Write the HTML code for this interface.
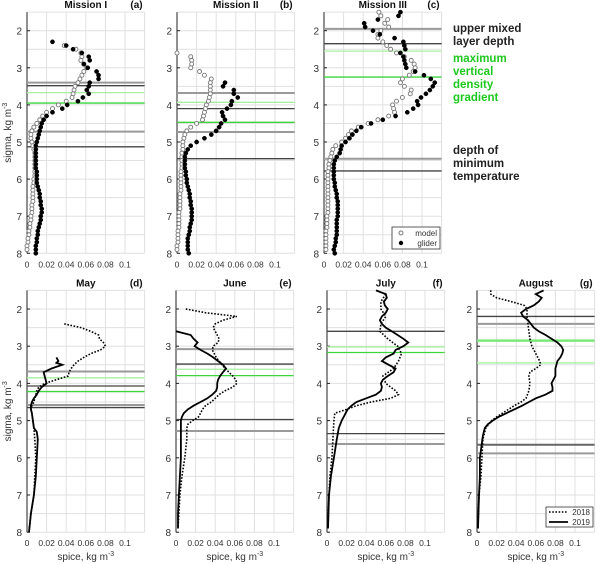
<!DOCTYPE html>
<html><head><meta charset="utf-8"><style>
body{margin:0;background:#fff}
svg{display:block;font-family:"Liberation Sans",Arial,sans-serif}
</style></head><body>
<svg id="chart" width="600" height="564" viewBox="0 0 600 564" xmlns="http://www.w3.org/2000/svg"></svg>
<script>
// ---- data ----
const xTicks=[0,0.02,0.04,0.06,0.08,0.1];
const xTickLabels=["0","0.02","0.04","0.06","0.08","0.1"];
const yTicks=[2,3,4,5,6,7,8];
const aGliderS=[2.3,2.4,2.5,2.6,2.7,2.8,2.9,3.0,3.1,3.2,3.3,3.4,3.5,3.6,3.7,3.8,3.9,4.0,4.1,4.2,4.3,4.4,4.5,4.6,4.7,4.8,4.9,5.0,5.1,5.2,5.3,5.4,5.5,5.6,5.7,5.8,5.9,6.0,6.1,6.2,6.3,6.4,6.5,6.6,6.7,6.8,6.9,7.0,7.1,7.2,7.3,7.4,7.5,7.6,7.7,7.8,7.9,8.0];
const aGliderX=[0.026,0.040,0.047,0.056,0.063,0.064,0.058,0.062,0.071,0.073,0.073,0.064,0.063,0.061,0.063,0.057,0.052,0.041,0.036,0.026,0.020,0.017,0.015,0.014,0.013,0.012,0.011,0.010,0.009,0.009,0.009,0.009,0.009,0.009,0.009,0.010,0.010,0.010,0.010,0.011,0.012,0.013,0.013,0.014,0.014,0.015,0.015,0.014,0.014,0.013,0.012,0.011,0.011,0.010,0.010,0.009,0.009,0.009];
const aModelS=[2.4,2.5,2.6,2.7,2.8,2.9,3.0,3.1,3.2,3.3,3.4,3.5,3.6,3.7,3.8,3.9,4.0,4.1,4.2,4.3,4.4,4.5,4.6,4.7,4.8,4.9,5.0,5.1,5.2,5.3,5.4,5.5,5.6,5.7,5.8,5.9,6.0,6.1,6.2,6.3,6.4,6.5,6.6,6.7,6.8,6.9,7.0,7.1,7.2,7.3,7.4,7.5,7.6,7.7,7.8,7.9];
const aModelX=[0.038,0.050,0.055,0.056,0.055,0.058,0.061,0.058,0.056,0.054,0.052,0.049,0.048,0.047,0.046,0.040,0.032,0.026,0.020,0.016,0.013,0.010,0.007,0.005,0.004,0.004,0.005,0.006,0.007,0.008,0.008,0.008,0.008,0.008,0.008,0.008,0.007,0.007,0.006,0.006,0.006,0.006,0.006,0.005,0.005,0.005,0.004,0.004,0.003,0.003,0.002,0.002,0.001,0.001,0.000,0.000];
const bGliderS=[3.4,3.5,3.6,3.7,3.8,3.9,4.0,4.1,4.2,4.3,4.4,4.5,4.6,4.7,4.8,4.9,5.0,5.1,5.2,5.3,5.4,5.5,5.6,5.7,5.8,5.9,6.0,6.1,6.2,6.3,6.4,6.5,6.6,6.7,6.8,6.9,7.0,7.1,7.2,7.3,7.4,7.5,7.6,7.7,7.8,7.9,8.0];
const bGliderX=[0.049,0.047,0.058,0.058,0.062,0.056,0.055,0.051,0.046,0.047,0.049,0.045,0.043,0.040,0.035,0.028,0.020,0.014,0.011,0.009,0.008,0.008,0.008,0.008,0.009,0.009,0.010,0.010,0.011,0.012,0.013,0.013,0.014,0.014,0.015,0.015,0.015,0.015,0.014,0.013,0.013,0.012,0.011,0.011,0.011,0.011,0.012];
const bModelS=[2.6,2.7,2.8,2.9,3.0,3.1,3.2,3.3,3.4,3.5,3.6,3.7,3.8,3.9,4.0,4.1,4.2,4.3,4.4,4.5,4.6,4.7,4.8,4.9,5.0,5.1,5.2,5.3,5.4,5.5,5.6,5.7,5.8,5.9,6.0,6.1,6.2,6.3,6.4,6.5,6.6,6.7,6.8,6.9,7.0,7.1,7.2,7.3,7.4,7.5,7.6,7.7,7.8,7.9];
const bModelX=[0.000,0.014,0.015,0.015,0.014,0.023,0.028,0.035,0.034,0.034,0.034,0.034,0.033,0.032,0.030,0.029,0.028,0.027,0.026,0.020,0.014,0.010,0.008,0.007,0.006,0.006,0.006,0.005,0.005,0.005,0.005,0.005,0.004,0.004,0.004,0.004,0.004,0.004,0.003,0.003,0.003,0.003,0.003,0.002,0.002,0.002,0.002,0.002,0.001,0.001,0.001,0.001,0.000,0.000];
const cGliderS=[1.5,1.6,1.7,1.8,1.9,2.0,2.1,2.2,2.3,2.4,2.5,2.6,2.7,2.8,2.9,3.0,3.1,3.2,3.3,3.4,3.5,3.6,3.7,3.8,3.9,4.0,4.1,4.2,4.3,4.4,4.5,4.6,4.7,4.8,4.9,5.0,5.1,5.2,5.3,5.4,5.5,5.6,5.7,5.8,5.9,6.0,6.1,6.2,6.3,6.4,6.5,6.6,6.7,6.8,6.9,7.0,7.1,7.2,7.3,7.4,7.5,7.6,7.7,7.8,7.9,8.0];
const cGliderX=[0.078,0.076,0.055,0.041,0.042,0.050,0.057,0.072,0.081,0.082,0.083,0.078,0.081,0.082,0.083,0.084,0.093,0.102,0.109,0.113,0.111,0.108,0.104,0.099,0.095,0.096,0.091,0.085,0.073,0.060,0.048,0.038,0.033,0.029,0.026,0.022,0.018,0.017,0.016,0.013,0.011,0.010,0.010,0.010,0.010,0.010,0.011,0.011,0.012,0.013,0.013,0.014,0.014,0.014,0.014,0.014,0.013,0.013,0.013,0.013,0.013,0.012,0.012,0.011,0.010,0.011];
const cModelS=[1.5,1.6,1.7,1.8,1.9,2.0,2.1,2.2,2.3,2.4,2.5,2.6,2.7,2.8,2.9,3.0,3.1,3.2,3.3,3.4,3.5,3.6,3.7,3.8,3.9,4.0,4.1,4.2,4.3,4.4,4.5,4.6,4.7,4.8,4.9,5.0,5.1,5.2,5.3,5.4,5.5,5.6,5.7,5.8,5.9,6.0,6.1,6.2,6.3,6.4,6.5,6.6,6.7,6.8,6.9,7.0,7.1,7.2,7.3,7.4,7.5,7.6,7.7,7.8,7.9];
const cModelX=[0.056,0.058,0.065,0.062,0.066,0.058,0.055,0.055,0.060,0.064,0.068,0.074,0.082,0.089,0.092,0.093,0.091,0.087,0.080,0.078,0.082,0.089,0.088,0.080,0.074,0.070,0.071,0.072,0.066,0.055,0.045,0.035,0.028,0.025,0.022,0.018,0.012,0.009,0.008,0.007,0.006,0.005,0.005,0.004,0.004,0.004,0.004,0.004,0.004,0.004,0.004,0.004,0.004,0.004,0.004,0.003,0.003,0.003,0.003,0.002,0.002,0.002,0.002,0.002,0.002];
const dS18=[2.4,2.5,2.6,2.7,2.8,2.9,3.0,3.1,3.2,3.3,3.4,3.5,3.6,3.7,3.8,3.9,4.0,4.1,4.2,4.3,4.4,4.5,4.6,4.7,4.8,5.0,5.2,5.5,6.0,6.5,7.0,7.5,8.0];
const dX18=[0.038,0.055,0.065,0.073,0.074,0.078,0.080,0.075,0.065,0.058,0.052,0.048,0.045,0.043,0.042,0.030,0.018,0.012,0.010,0.009,0.008,0.007,0.005,0.004,0.005,0.006,0.007,0.008,0.009,0.008,0.007,0.004,0.002];
const dS19=[3.3,3.4,3.45,3.5,3.6,3.7,3.8,3.9,4.0,4.1,4.2,4.3,4.4,4.5,4.6,4.7,4.8,5.0,5.2,5.3,5.5,6.0,6.5,7.0,7.5,8.0];
const dX19=[0.030,0.032,0.030,0.036,0.025,0.017,0.018,0.019,0.020,0.015,0.012,0.010,0.007,0.005,0.004,0.004,0.005,0.006,0.007,0.010,0.011,0.010,0.009,0.007,0.004,0.002];
const eS18=[2.0,2.1,2.2,2.3,2.4,2.5,2.6,2.7,2.8,2.9,3.0,3.1,3.2,3.3,3.4,3.5,3.6,3.7,3.8,3.9,4.0,4.1,4.2,4.3,4.4,4.5,4.6,4.7,4.8,4.9,5.0,5.1,5.2,5.5,6.0,6.5,7.0,7.5,7.9];
const eX18=[0.010,0.030,0.062,0.048,0.040,0.038,0.040,0.042,0.044,0.043,0.038,0.037,0.039,0.041,0.044,0.047,0.050,0.054,0.058,0.061,0.062,0.058,0.050,0.044,0.040,0.036,0.030,0.027,0.025,0.023,0.017,0.012,0.011,0.011,0.009,0.006,0.004,0.003,0.002];
const eS19=[2.6,2.7,2.8,2.9,3.0,3.1,3.2,3.3,3.4,3.5,3.6,3.7,3.8,3.9,4.0,4.1,4.2,4.3,4.4,4.5,4.6,4.7,4.8,4.9,5.0,5.5,6.0,6.5,7.0,7.5,7.9];
const eX19=[0.000,0.015,0.018,0.022,0.019,0.025,0.032,0.038,0.043,0.048,0.051,0.048,0.045,0.043,0.042,0.042,0.041,0.037,0.032,0.025,0.018,0.012,0.008,0.006,0.005,0.005,0.005,0.004,0.003,0.002,0.002];
const fS18=[1.6,1.8,2.0,2.2,2.4,2.6,2.8,3.0,3.2,3.4,3.6,3.8,4.0,4.2,4.3,4.4,4.5,4.6,4.7,4.8,5.0,5.5,6.0,6.5,7.0,7.9];
const fX18=[0.060,0.055,0.055,0.060,0.055,0.054,0.062,0.072,0.076,0.073,0.068,0.057,0.060,0.070,0.073,0.065,0.045,0.030,0.020,0.008,0.007,0.006,0.005,0.003,0.002,0.001];
const fS19=[1.5,1.6,1.7,1.8,1.9,2.0,2.1,2.2,2.3,2.4,2.5,2.6,2.7,2.8,2.9,3.0,3.1,3.2,3.3,3.4,3.5,3.6,3.7,3.8,3.9,4.0,4.1,4.2,4.3,4.4,4.5,4.6,4.7,4.8,4.9,5.0,5.2,5.5,6.0,6.5,7.0,7.9];
const fX19=[0.050,0.060,0.061,0.058,0.059,0.062,0.060,0.056,0.054,0.056,0.060,0.066,0.072,0.078,0.083,0.078,0.070,0.068,0.060,0.056,0.063,0.070,0.068,0.062,0.057,0.055,0.056,0.055,0.050,0.040,0.030,0.025,0.021,0.019,0.017,0.015,0.012,0.010,0.007,0.004,0.002,0.001];
const gS18=[1.5,1.6,1.7,1.8,1.9,2.0,2.2,2.4,2.6,2.8,3.0,3.2,3.4,3.5,3.6,3.7,3.8,4.0,4.2,4.4,4.5,4.6,4.7,4.8,4.9,5.0,5.2,5.5,6.0,6.5,7.0,7.9];
const gX18=[0.014,0.014,0.020,0.035,0.048,0.051,0.051,0.052,0.053,0.054,0.056,0.060,0.064,0.065,0.060,0.054,0.053,0.054,0.053,0.050,0.045,0.038,0.032,0.026,0.020,0.015,0.009,0.006,0.005,0.004,0.002,0.001];
const gS19=[1.5,1.6,1.7,1.8,1.9,2.0,2.1,2.2,2.3,2.4,2.5,2.6,2.7,2.8,2.9,3.0,3.1,3.2,3.3,3.4,3.6,3.8,3.9,4.0,4.1,4.2,4.3,4.4,4.5,4.6,4.7,4.8,4.9,5.0,5.1,5.2,5.4,5.6,5.8,6.0,6.5,7.0,7.9];
const gX19=[0.068,0.060,0.066,0.063,0.058,0.050,0.045,0.047,0.052,0.055,0.058,0.063,0.070,0.076,0.082,0.086,0.088,0.087,0.085,0.082,0.080,0.080,0.078,0.076,0.077,0.077,0.070,0.060,0.053,0.046,0.038,0.030,0.022,0.016,0.011,0.008,0.006,0.005,0.004,0.003,0.003,0.002,0.001];
// reference lines per panel: sigma levels and kinds (g=gray, k=dark, lg=light green, gr=green)
const aLines=[3.4,3.48,3.67,3.95,4.72,5.13]; const aKinds=["g","k","lg","gr","g","k"];
const bLines=[3.68,3.93,4.1,4.47,4.73,5.45]; const bKinds=["g","lg","k","gr","g","k"];
const cLines=[1.95,2.35,2.55,3.25,5.45,5.78]; const cKinds=["g","k","lg","gr","g","k"];
const dLines=[3.68,3.85,4.07,4.22,4.58,4.65]; const dKinds=["g","lg","k","gr","g","k"];
const eLines=[3.08,3.48,3.62,3.79,4.97,5.28]; const eKinds=["g","k","lg","gr","k","g"];
const fLines=[2.6,3.02,3.17,5.35,5.63]; const fKinds=["k","lg","gr","k","g"];
const gLines=[2.2,2.4,2.85,3.45,5.65,5.88]; const gKinds=["k","g","lgt","lg","kg","g"];

const svg=document.getElementById('chart');
const NS='http://www.w3.org/2000/svg';
function el(tag,attrs,parent){const e=document.createElementNS(NS,tag);for(const k in attrs)e.setAttribute(k,attrs[k]);(parent||svg).appendChild(e);return e;}
const styles={g:{stroke:'#9a9a9a',w:2},k:{stroke:'#444',w:1.3},lg:{stroke:'#a8f0a0',w:1.3},gr:{stroke:'#3cd63c',w:1.3},lgt:{stroke:'#7be87b',w:2.5},kg:{stroke:'#666',w:2}};

function makePanel(id,x0,row,title,letter,showYLabel,showXLabel){
  const yBase=row===0?30.7:309, ppu=row===0?37.1:37.2, pxPer=980;
  const X=v=>x0+v*pxPer, Y=s=>yBase+(s-2)*ppu;
  const g=el('g',{});
  
  
  for(let v=0.02;v<=0.1201;v+=0.02){const l=el('line',{x1:X(v),x2:X(v),y1:Y(1.5),y2:Y(8),stroke:'#e0e0e0','stroke-width':1},g);}
  for(let s=1.5;s<=8.001;s+=0.5){const l=el('line',{x1:X(0),x2:X(0.12),y1:Y(s),y2:Y(s),stroke:'#e0e0e0','stroke-width':1},g);}
  const ax=el('line',{x1:X(0),x2:X(0),y1:Y(1.5),y2:Y(8),stroke:'#222','stroke-width':1},g);
  
  yTicks.forEach(s=>{el('line',{x1:X(0),x2:X(0)+3,y1:Y(s),y2:Y(s),stroke:'#222'},g);
    const t=el('text',{x:X(0)-5,y:Y(s)+4,'text-anchor':'end','font-size':10,fill:'#333'},g);t.textContent=s;
    });
  xTicks.forEach((v,i)=>{const t=el('text',{x:X(v),y:Y(8)+14,'text-anchor':'middle','font-size':8.5,fill:'#333'},g);t.textContent=xTickLabels[i];
    });
  const tt=el('text',{x:X(0.06),y:Y(1.5)-4,'text-anchor':'middle','font-size':10,'font-weight':'bold',fill:'#111'},g);tt.textContent=title;
  
  const lt=el('text',{x:X(0.12)-2,y:Y(1.5)-4,'text-anchor':'end','font-size':10,'font-weight':'bold',fill:'#111'},g);lt.textContent=letter;
  
  if(showYLabel){const yl=el('text',{x:0,y:0,'text-anchor':'middle','font-size':10,fill:'#333',transform:`translate(11,${Y(4.75)}) rotate(-90)`},g);
    yl.innerHTML='sigma, kg m<tspan dy="-4" font-size="7">-3</tspan>';
    }
  if(showXLabel){const xl=el('text',{x:X(0.06),y:Y(8)+28,'text-anchor':'middle','font-size':10,fill:'#333'},g);
    xl.innerHTML='spice, kg m<tspan dy="-4" font-size="7">-3</tspan>';
    }
  return {g,X,Y};
}
function refLines(p,lv,kinds){lv.forEach((s,i)=>{const st=styles[kinds[i]];
  const l=el('line',{x1:p.X(0),x2:p.X(0.12),y1:p.Y(s),y2:p.Y(s),stroke:st.stroke,'stroke-width':st.w},p.g);
  });}
function dots(p,S,Xs,open){S.forEach((s,i)=>{
  const c=el('circle',{cx:p.X(Xs[i]),cy:p.Y(s),r:open?2.0:2.1,fill:open?'#fff':'#000',stroke:open?'#777':'#000','stroke-width':open?0.9:0.5},p.g);
  });}
function line(p,S,Xs,dotted){const d=S.map((s,i)=>(i?'L':'M')+p.X(Xs[i]).toFixed(1)+','+p.Y(s).toFixed(1)).join('');
  const l=el('path',{d,fill:'none',stroke:'#000','stroke-width':dotted?1.6:1.8,'stroke-dasharray':dotted?'1.6,1.6':'none'},p.g);
  }

const pa=makePanel('a',27,0,'Mission I','(a)',true,false);refLines(pa,aLines,aKinds);dots(pa,aModelS,aModelX,true);dots(pa,aGliderS,aGliderX,false);
const pb=makePanel('b',177,0,'Mission II','(b)',false,false);refLines(pb,bLines,bKinds);dots(pb,bModelS,bModelX,true);dots(pb,bGliderS,bGliderX,false);
const pc=makePanel('c',324,0,'Mission III','(c)',false,false);refLines(pc,cLines,cKinds);dots(pc,cModelS,cModelX,true);dots(pc,cGliderS,cGliderX,false);
const pd=makePanel('d',27,1,'May','(d)',true,true);refLines(pd,dLines,dKinds);line(pd,dS18,dX18,true);line(pd,dS19,dX19,false);
const pe=makePanel('e',176,1,'June','(e)',false,true);refLines(pe,eLines,eKinds);line(pe,eS18,eX18,true);line(pe,eS19,eX19,false);
const pf=makePanel('f',327,1,'July','(f)',false,true);refLines(pf,fLines,fKinds);line(pf,fS18,fX18,true);line(pf,fS19,fX19,false);
const pg=makePanel('g',477,1,'August','(g)',false,true);refLines(pg,gLines,gKinds);line(pg,gS18,gX18,true);line(pg,gS19,gX19,false);

const lg1=el('g',{});
el('rect',{x:392,y:227,width:48,height:22,fill:'#fff',stroke:'#333','stroke-width':0.8},lg1);
el('circle',{cx:401,cy:233,r:2,fill:'#fff',stroke:'#777'},lg1);el('circle',{cx:401,cy:243,r:2.2,fill:'#000'},lg1);
let t=el('text',{x:437,y:236,'text-anchor':'end','font-size':8,fill:'#333'},lg1);t.textContent='model';
t=el('text',{x:437,y:246,'text-anchor':'end','font-size':8,fill:'#333'},lg1);t.textContent='glider';
const lg2=el('g',{});
el('rect',{x:546,y:507,width:47,height:20,fill:'#fff',stroke:'#333','stroke-width':0.8},lg2);
el('line',{x1:549,x2:568,y1:512,y2:512,stroke:'#000','stroke-width':1.6,'stroke-dasharray':'1.6,1.6'},lg2);
el('line',{x1:549,x2:568,y1:522,y2:522,stroke:'#000','stroke-width':1.8},lg2);
t=el('text',{x:590,y:515,'text-anchor':'end','font-size':8,fill:'#333'},lg2);t.textContent='2018';
t=el('text',{x:590,y:525,'text-anchor':'end','font-size':8,fill:'#333'},lg2);t.textContent='2019';
const ann=[['upper mixed',32,'#222'],['layer depth',45,'#222'],['maximum',62,'#1ec81e'],['vertical',75,'#1ec81e'],['density',88,'#1ec81e'],['gradient',101,'#1ec81e'],['depth of',154,'#222'],['minimum',167,'#222'],['temperature',180,'#222']];
ann.forEach(a=>{const e=el('text',{x:453,y:a[1],'font-size':11.5,'font-weight':'bold',fill:a[2]});e.textContent=a[0];
  });
</script>
</body></html>
